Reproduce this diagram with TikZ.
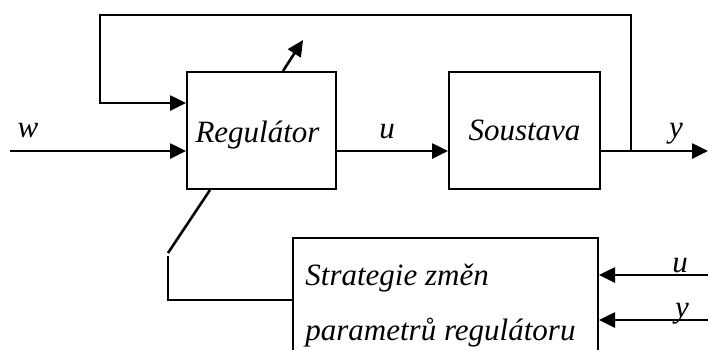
\documentclass[tikz,border=0pt]{standalone}
\usepackage{fontspec}
\setmainfont{Liberation Serif}
\usetikzlibrary{arrows.meta}
\begin{document}
\begin{tikzpicture}[x=0.5pt,y=-0.5pt,
  font=\fontsize{15.5}{18}\selectfont\itshape,
  block/.style={draw, line width=1pt, inner sep=0pt},
  textline/.style={anchor=base west, inner sep=0pt},
  signal/.style={line width=1.3pt, -{Triangle[length=8pt,width=7.5pt]}},
  wire/.style={line width=1.3pt}]
\clip (0,0) rectangle (708,349);
% BLOCKS
\node[block, minimum width=74.5pt, minimum height=58.5pt] at (261.5,130.5) (regulator) {};
\node[block, minimum width=75.5pt, minimum height=58.5pt] at (524.5,130.5) (soustava) {};
\node[block, minimum width=152.5pt, minimum height=75pt] at (445.5,313) (strategie) {};
% TEXT
\node[anchor=base] at (257.5,142) (regulator_text) {Regulátor};
\node[anchor=base] at (524.5,140) (soustava_text) {Soustava};
\node[textline] at (305,285) (strategie_line1) {Strategie změn};
\node[textline] at (305,340) (strategie_line2) {parametrů regulátoru};
\node[anchor=base] at (28,137) (label_w) {w};
\node[anchor=base] at (387,138) (label_u) {u};
\node[anchor=base] at (676,137) (label_y) {y};
\node[anchor=base] at (680,272) (label_u_in) {u};
\node[anchor=base] at (682,317) (label_y_in) {y};
% POINTS
\coordinate (w_in) at (10,151);
\coordinate (y_branch) at (631,151);
\coordinate (y_out) at (708,151);
\coordinate (fb_top_right) at (631,15);
\coordinate (fb_top_left) at (100,15);
\coordinate (fb_corner) at (100,103);
\coordinate (param_tip) at (303,40);
\coordinate (switch_a) at (168,253);
\coordinate (switch_b) at (168,256);
\coordinate (switch_c) at (168,300);
\coordinate (u_in) at (708,275);
\coordinate (y_in) at (708,320);
% MAIN LOOP
\draw[signal] (w_in) -- (w_in -| regulator.west);
\draw[signal] (regulator.east |- w_in) -- (soustava.west |- w_in);
\draw[signal] (soustava.east |- w_in) -- (y_out);
\draw[signal] (y_branch) -- (fb_top_right) -- (fb_top_left) -- (fb_corner) -- (fb_corner -| regulator.west);
\draw[signal] ([xshift=10.75pt]regulator.north) -- (param_tip);
% ADAPTATION
\draw[wire] ([xshift=-25.75pt]regulator.south) -- (switch_a);
\draw[wire] (switch_b) -- (switch_c) -- (switch_c -| strategie.west);
\draw[signal] (u_in) -- (u_in -| strategie.east);
\draw[signal] (y_in) -- (y_in -| strategie.east);
\end{tikzpicture}
\end{document}
